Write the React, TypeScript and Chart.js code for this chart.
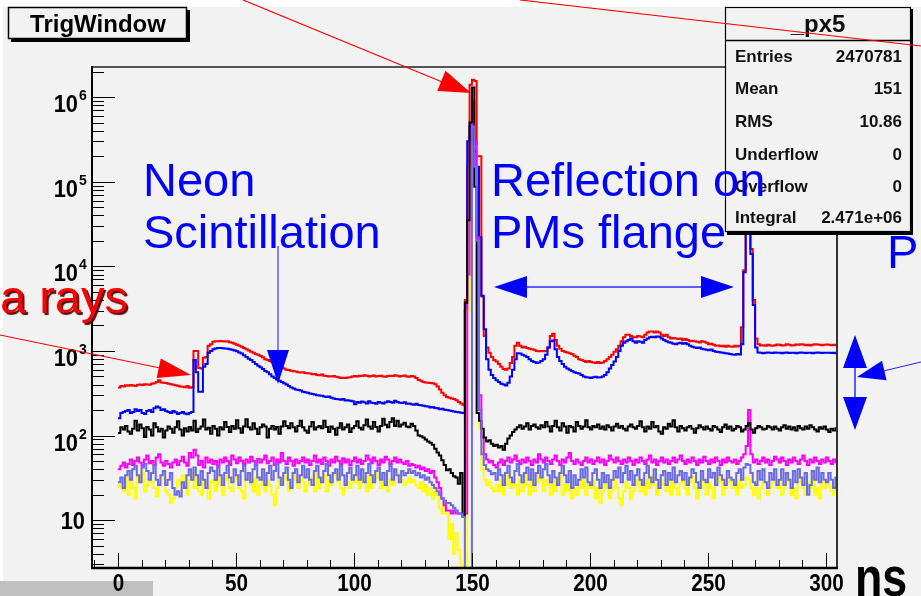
import React, { useEffect, useRef } from "react";
import { Chart, registerables } from "chart.js";

Chart.register(...registerables);

// ---------------- data (1 ns bins starting at 0 ns) ----------------
const firstBinNs = 0;
const binWidthNs = 1;

const redCounts = [
  370,385,380,392,388,396,390,385,398,402,395,405,400,398,410,415,430,450,425,420,
  418,410,405,398,392,388,380,378,372,385,368,372,1000,1000,630,620,830,850,1150,1200,
  1280,1300,1300,1310,1300,1290,1300,1270,1250,1220,1180,1150,1120,1080,1050,1010,980,950,920,900,
  870,840,800,780,760,740,710,690,660,640,620,600,595,585,575,570,560,555,560,550,
  545,540,530,535,520,515,525,510,505,500,498,505,495,488,480,482,478,485,490,500,
  505,500,510,505,515,508,500,505,512,498,505,510,500,495,505,510,505,515,508,500,
  505,512,500,495,505,500,480,455,445,430,425,420,418,415,405,380,350,320,300,285,
  280,275,270,262,250,240,232,4000,150000,1400000,1600000,1550000,200000,200000,4400,1500,1100,950,850,780,
  750,700,650,610,600,620,720,850,1150,1250,1150,1100,1120,1080,1060,1050,1030,1000,990,1000,
  990,1000,1100,1500,1600,1350,1150,1060,1000,980,960,940,920,880,850,800,780,760,740,760,
  740,730,720,740,720,730,760,800,850,900,980,1050,1150,1300,1450,1550,1550,1500,1450,1450,
  1500,1480,1450,1550,1650,1700,1700,1650,1700,1650,1550,1500,1550,1450,1400,1420,1400,1380,1400,1350,
  1380,1350,1300,1320,1300,1280,1260,1300,1280,1250,1200,1220,1180,1150,1160,1140,1150,1120,1150,1130,
  1120,1150,1130,1150,1900,9000,26000,26000,16000,4000,1400,1200,1160,1170,1150,1180,1160,1150,1170,1190,
  1180,1160,1170,1200,1180,1160,1170,1190,1180,1200,1190,1170,1180,1160,1180,1200,1190,1180,1170,1180,
  1190,1180,1170,1180,1170,
];

const blueCounts = [
  160,185,190,195,200,185,190,205,195,200,185,180,195,200,190,210,220,215,200,205,
  195,190,185,195,188,180,185,190,182,178,185,190,780,560,330,330,650,700,950,1000,
  1050,1070,1080,1080,1075,1070,1060,1050,1030,1010,990,960,930,890,850,810,780,740,700,670,
  640,610,580,560,530,500,480,460,445,430,415,400,385,370,360,350,345,340,330,325,
  320,315,310,305,300,298,295,290,285,290,280,275,270,268,265,270,260,262,258,255,
  235,250,245,252,248,240,255,245,242,238,250,245,240,248,255,250,245,258,250,245,
  242,248,238,240,235,232,238,230,228,225,222,220,215,218,212,210,205,208,202,200,
  198,195,192,190,188,186,185,3000,300000,450000,450000,230000,150000,22000,4500,1800,800,600,520,480,
  450,430,410,400,390,420,500,600,800,940,930,900,880,850,800,760,740,720,730,760,
  800,900,1100,1300,1330,1050,850,760,700,650,620,600,580,560,550,540,520,500,490,485,
  480,490,495,485,490,500,520,560,620,680,750,850,1000,1150,1250,1300,1350,1400,1300,1250,
  1300,1280,1250,1350,1400,1450,1470,1450,1480,1470,1400,1350,1300,1270,1250,1220,1200,1230,1250,1220,
  1240,1200,1150,1120,1100,1080,1100,1060,1050,1030,1020,1040,1000,980,970,960,950,940,930,920,
  910,900,920,905,1200,8500,30000,30000,14000,3500,1100,960,950,940,955,960,950,945,960,950,
  955,940,950,960,945,950,955,940,950,960,950,945,955,950,940,950,960,955,945,950,
  955,950,945,950,940,
];

const blackCounts = [
  107,125,118,130,112,105,120,150,115,135,122,96,126,118,100,140,125,112,120,95,
  115,128,120,108,125,148,118,100,122,112,126,115,150,110,120,128,155,118,124,105,
  130,120,100,125,118,145,126,110,130,120,152,122,108,128,156,125,118,140,120,104,
  125,135,128,95,120,130,118,126,105,128,148,130,122,140,125,112,130,150,125,115,
  108,128,145,118,125,130,122,150,126,110,128,120,102,124,140,118,125,135,110,122,
  130,148,124,118,132,155,128,120,145,126,112,130,158,134,125,145,160,130,150,128,
  135,142,128,125,138,130,115,100,98,95,90,85,82,78,70,63,58,51,45,39,
  40,36,33,32,27,36,11,3700,35000,500000,1300000,87000,185,150,120,95,85,88,80,75,
  78,72,75,68,80,92,100,110,118,125,132,120,128,140,118,130,135,125,120,132,
  125,145,128,112,130,150,125,115,140,128,108,130,125,112,145,130,120,128,152,125,
  118,130,125,135,120,128,118,132,125,115,128,138,124,130,120,115,128,135,125,120,
  130,148,125,112,128,120,145,125,130,112,105,125,120,138,128,152,125,112,130,122,
  115,125,130,120,108,122,132,125,118,128,120,115,130,125,118,110,125,135,120,128,
  115,120,130,125,112,118,130,140,118,108,122,130,125,118,120,130,125,118,128,120,
  115,125,132,120,128,118,125,115,130,122,118,128,120,132,125,118,112,125,120,128,
  118,110,120,115,122,
];

const magentaCounts = [
  40,44,48,42,46,52,45,50,55,48,44,52,58,47,50,45,55,60,48,44,
  50,46,42,48,52,45,50,56,48,44,62,55,68,58,45,50,42,55,48,52,
  46,50,44,52,48,55,50,45,58,52,47,55,50,46,52,48,56,50,45,53,
  48,52,58,47,50,55,45,52,48,62,50,46,55,50,44,52,47,50,55,48,
  52,45,50,58,48,52,46,55,50,44,52,48,56,50,46,54,48,52,45,50,
  55,48,52,46,50,58,52,47,55,50,45,52,48,56,52,46,50,55,48,52,
  48,46,50,44,46,45,42,44,40,42,38,40,36,38,32,28,24,18,15,13,
  13,12,13,12,12,12,12,12,8000,300000,900000,300000,22000,300,95,60,52,48,50,45,
  42,48,52,45,50,55,48,52,58,50,46,52,48,55,50,45,52,48,60,52,
  48,55,50,46,52,58,50,45,52,48,55,62,50,46,52,48,45,50,55,48,
  52,46,50,55,48,52,45,50,58,52,48,55,50,46,52,48,55,50,45,52,
  48,55,50,46,52,58,48,52,45,50,55,48,52,46,50,55,48,52,58,50,
  46,52,48,55,50,45,52,48,56,50,46,52,48,55,50,45,52,48,55,50,
  48,52,46,50,55,60,75,200,60,48,52,46,50,55,48,52,45,50,56,52,
  48,55,50,45,52,48,55,50,46,52,58,50,45,52,48,55,50,46,52,48,
  55,50,46,52,48,
];

const slateCounts = [
  28,32,24,34,38,30,40,44,34,28,42,46,38,30,36,44,30,26,34,38,
  26,30,36,24,20,22,19,28,24,34,40,30,42,34,26,38,30,24,36,42,
  38,30,42,34,26,36,44,32,28,40,34,26,38,44,30,36,28,40,46,32,
  30,40,26,36,44,30,38,46,32,26,36,42,30,24,36,40,28,34,44,32,
  40,30,26,38,44,32,28,38,46,34,28,36,40,30,44,34,26,36,42,30,
  34,44,30,40,28,36,46,34,28,38,42,30,36,26,38,44,30,40,34,28,
  38,34,36,40,36,38,34,36,32,34,30,32,28,26,24,22,20,18,17,16,
  16,15,14,13,12,12,11,0,0,0,450000,150000,20000,200,60,45,40,38,35,36,
  30,40,34,26,36,44,32,28,38,46,34,28,36,42,30,40,26,36,44,32,
  40,46,34,28,38,32,26,36,44,34,28,38,24,34,26,30,40,32,42,28,
  26,36,40,30,24,36,28,34,24,30,38,32,42,28,36,44,30,38,26,34,
  40,30,26,36,44,32,28,40,30,24,34,38,26,36,30,42,28,34,38,30,
  36,26,32,40,36,28,24,38,30,28,40,32,36,26,42,34,30,26,38,32,
  30,26,36,40,30,42,46,45,36,28,26,38,30,40,28,24,36,30,40,26,
  30,40,26,36,30,24,38,28,40,32,26,36,20,26,38,30,42,28,36,30,
  28,36,30,24,32,
];

const yellowCounts = [
  25,30,22,32,20,28,24,18,34,28,36,22,26,32,28,24,19,28,32,30,
  22,20,16,18,24,30,26,34,24,20,30,36,24,32,22,20,30,26,18,28,
  30,22,34,26,20,30,36,24,22,30,34,24,22,18,30,34,26,22,32,20,
  26,34,22,30,26,20,15,24,30,26,34,30,22,26,36,30,24,32,28,22,
  26,32,30,22,36,24,30,34,22,30,26,34,36,28,24,20,34,28,24,32,
  28,36,24,32,30,22,34,24,30,36,32,24,28,34,22,30,26,34,36,28,
  30,26,28,32,28,30,26,24,28,22,26,20,24,18,22,20,14,12,16,12,
  6,9,4,7,4.5,3,0,0,3000,150000,260000,260000,400,120,40,30,26,28,24,22,
  26,22,30,20,26,34,24,30,26,20,30,22,34,26,20,30,22,28,34,30,
  22,30,26,20,30,22,28,34,20,26,22,30,18,24,20,28,24,30,20,26,
  24,30,18,24,16,22,28,24,18,22,30,24,18,15,22,28,24,18,22,26,
  30,22,28,20,30,24,34,26,20,24,30,26,22,30,20,28,24,20,28,32,
  24,20,28,32,24,18,28,24,30,20,28,24,18,26,32,28,20,24,28,32,
  24,28,20,30,24,26,32,30,24,20,28,18,24,30,28,20,24,28,32,24,
  28,20,24,30,28,20,24,18,28,32,24,20,28,24,32,20,24,18,28,24,
  30,26,22,20,26,
];

// axis ranges and ticks
const xAxisMin = -11;
const xAxisMax = 304.7;
const yAxisMin = 2.72;
const yAxisMax = 2.27e6;
const xMajorTicks = [0, 50, 100, 150, 200, 250, 300];
const xMinorTicks = [-10, 10, 20, 30, 40, 60, 70, 80, 90, 110, 120, 130, 140, 160, 170, 180, 190, 210, 220, 230, 240, 260, 270, 280, 290];
const yDecadeExponents = [1, 2, 3, 4, 5, 6];
const yMinorMultipliers = [2, 3, 4, 5, 6, 7, 8, 9];

const titleText = "TrigWindow";
const statsTitle = "_px5";
const statsLabels = ["Entries", "Mean", "RMS", "Underflow", "Overflow", "Integral"];
const statsValues = ["2470781", "151", "10.86", "0", "0", "2.471e+06"];
const xUnitLabel = "ns";

const SANS = '"Liberation Sans", Arial, Helvetica, sans-serif';

function toHistPoints(values: number[]) {
  const pts = values.map((v, i) => ({ x: firstBinNs + i * binWidthNs, y: v > 0 ? v : yAxisMin / 10 }));
  const last = values[values.length - 1];
  pts.push({ x: firstBinNs + values.length * binWidthNs, y: last > 0 ? last : yAxisMin / 10 });
  return pts;
}

function drawText(ctx: CanvasRenderingContext2D, s: string, x: number, y: number, font: string, color: string, align: CanvasTextAlign = "left", sx = 1) {
  ctx.save();
  ctx.font = font;
  ctx.fillStyle = color;
  ctx.textAlign = align;
  ctx.textBaseline = "alphabetic";
  ctx.translate(x, y);
  ctx.scale(sx, 1);
  ctx.fillText(s, 0, 0);
  ctx.restore();
}

function seg(ctx: CanvasRenderingContext2D, x1: number, y1: number, x2: number, y2: number, color: string, w: number) {
  ctx.save();
  ctx.strokeStyle = color;
  ctx.lineWidth = w;
  ctx.beginPath();
  ctx.moveTo(x1, y1);
  ctx.lineTo(x2, y2);
  ctx.stroke();
  ctx.restore();
}

function head(ctx: CanvasRenderingContext2D, tipX: number, tipY: number, fromX: number, fromY: number, len: number, half: number, color: string) {
  const dx = tipX - fromX;
  const dy = tipY - fromY;
  const d = Math.hypot(dx, dy);
  const ux = dx / d;
  const uy = dy / d;
  const bx = tipX - ux * len;
  const by = tipY - uy * len;
  ctx.save();
  ctx.fillStyle = color;
  ctx.beginPath();
  ctx.moveTo(tipX, tipY);
  ctx.lineTo(bx - uy * half, by + ux * half);
  ctx.lineTo(bx + uy * half, by - ux * half);
  ctx.closePath();
  ctx.fill();
  ctx.restore();
}

const backgroundPlugin = {
  id: "rootBackground",
  beforeDraw(chart: any) {
    const ctx = chart.ctx as CanvasRenderingContext2D;
    ctx.save();
    ctx.fillStyle = "#ffffff";
    ctx.fillRect(0, 0, chart.width, chart.height);
    ctx.fillStyle = "#f2f2f2";
    ctx.fillRect(3, 7, chart.width - 3, chart.height - 7);
    ctx.fillStyle = "#c0c0c0";
    ctx.fillRect(0, 581, 153, 15);
    ctx.restore();
  },
};

const overlayPlugin = {
  id: "rootOverlay",
  afterDatasetsDraw(chart: any) {
    const ctx = chart.ctx as CanvasRenderingContext2D;
    const xs = chart.scales.x;
    const ys = chart.scales.y;
    const { left, right, top, bottom } = chart.chartArea;
    ctx.save();

    // frame
    seg(ctx, left, top, right, top, "#222", 1.5);
    seg(ctx, right, top, right, bottom, "#333", 2);
    seg(ctx, left, top - 1, left, bottom + 1, "#000", 2);
    seg(ctx, left - 1, bottom, right + 1, bottom, "#000", 2.5);

    // x ticks
    for (const v of xMajorTicks) {
      const px = Math.round(xs.getPixelForValue(v)) + 0.5;
      seg(ctx, px, bottom, px, bottom - 15, "#000", 1);
      drawText(ctx, String(v), px, bottom + 23, `bold 23px ${SANS}`, "#000", "center", 0.9);
    }
    for (const v of xMinorTicks) {
      const px = Math.round(xs.getPixelForValue(v)) + 0.5;
      seg(ctx, px, bottom, px, bottom - 8, "#000", 1);
    }
    // y ticks
    for (const e of yDecadeExponents) {
      const py = Math.round(ys.getPixelForValue(Math.pow(10, e))) + 0.5;
      seg(ctx, left, py, left + 23, py, "#000", 1);
      if (e === 1) {
        drawText(ctx, "10", 85, py + 8, `bold 23px ${SANS}`, "#000", "right", 0.95);
      } else {
        drawText(ctx, "10", 78, py + 14, `bold 23px ${SANS}`, "#000", "right", 0.95);
        drawText(ctx, String(e), 79, py + 2, `bold 14px ${SANS}`, "#000", "left");
      }
    }
    for (let e = 0; e <= 6; e++) {
      for (const m of yMinorMultipliers) {
        const v = m * Math.pow(10, e);
        if (v < yAxisMin || v > yAxisMax) continue;
        const py = Math.round(ys.getPixelForValue(v)) + 0.5;
        seg(ctx, left, py, left + 12, py, "#000", 1);
      }
    }

    // title box
    ctx.fillStyle = "#000";
    ctx.fillRect(11, 10, 179, 32);
    ctx.fillStyle = "#f2f2f2";
    ctx.fillRect(8, 7, 179, 32);
    ctx.strokeStyle = "#000";
    ctx.lineWidth = 1.5;
    ctx.strokeRect(8.5, 7.5, 178, 31);
    drawText(ctx, titleText, 98, 32, `bold 24px ${SANS}`, "#000", "center");

    // stats box
    ctx.fillStyle = "#000";
    ctx.fillRect(727, 9, 186, 226);
    ctx.fillStyle = "#f2f2f2";
    ctx.fillRect(725, 7, 186, 225);
    ctx.strokeStyle = "#000";
    ctx.lineWidth = 1.2;
    ctx.strokeRect(725.5, 7.5, 185, 224);
    seg(ctx, 725, 40.5, 911, 40.5, "#000", 1.5);
    drawText(ctx, statsTitle, 818, 32, `bold 24px ${SANS}`, "#111", "center");
    const rowBase = [62, 94, 127, 160, 192, 223];
    statsLabels.forEach((lab, i) => {
      drawText(ctx, lab, 735, rowBase[i], `bold 17px ${SANS}`, "#111", "left");
      drawText(ctx, statsValues[i], 902, rowBase[i], `bold 17px ${SANS}`, "#111", "right");
    });

    // red annotation lines
    seg(ctx, 243, 0, 452, 86, "#ff0000", 1.2);
    head(ctx, 471, 93, 243, 0, 32, 11, "#ff0000");
    seg(ctx, 520, 0, 921, 46, "#ff0000", 1.2);
    seg(ctx, 0, 335, 160, 368, "#ff0000", 1.2);
    head(ctx, 191, 375, 0, 335, 33, 10, "#ff0000");

    // texts
    const big = `47px ${SANS}`;
    drawText(ctx, "Neon", 143, 196, big, "#0000ff");
    drawText(ctx, "Scintillation", 143, 248, big, "#0000ff");
    drawText(ctx, "Reflection on", 491, 196, big, "#0000ff");
    drawText(ctx, "PMs flange", 491, 248, big, "#0000ff");
    drawText(ctx, "P", 887, 268, big, "#0000ff");
    ctx.save();
    ctx.shadowColor = "rgba(70,0,0,0.95)";
    ctx.shadowOffsetX = 2;
    ctx.shadowOffsetY = 2;
    ctx.shadowBlur = 1;
    drawText(ctx, "a rays", 128, 313, big, "#ff0000", "right");
    ctx.restore();

    // blue arrows
    seg(ctx, 278, 246, 278, 355, "#5a5aff", 1.5);
    head(ctx, 278, 384, 278, 246, 34, 11, "#0000ff");
    seg(ctx, 510, 287, 720, 287, "#2a2aff", 1.5);
    head(ctx, 494, 287, 734, 287, 33, 11, "#0000ff");
    head(ctx, 734, 287, 494, 287, 33, 11, "#0000ff");
    seg(ctx, 855, 360, 855, 405, "#2a2aff", 1.5);
    head(ctx, 855, 335, 855, 430, 33, 12, "#0000ff");
    head(ctx, 855, 430, 855, 335, 33, 12, "#0000ff");
    seg(ctx, 921, 362, 875, 373, "#2a2aff", 1.2);
    head(ctx, 857, 377, 921, 362, 28, 10, "#0000ff");

    // unit label
    drawText(ctx, xUnitLabel, 855, 596, `bold 56px ${SANS}`, "#000", "left", 0.8);

    ctx.restore();
  },
};

export default function App() {
  const ref = useRef<HTMLCanvasElement | null>(null);
  useEffect(() => {
    document.body.style.margin = "0";
    const canvas = ref.current;
    if (!canvas) return;
    const mk = (label: string, values: number[], color: string) => ({
      label,
      data: toHistPoints(values),
      borderColor: color,
      backgroundColor: color,
      borderWidth: 2,
      pointRadius: 0,
      stepped: "before" as const,
      fill: false,
      tension: 0,
    });
    const chart = new Chart(canvas, {
      type: "line",
      data: {
        datasets: [
          mk("slate", slateCounts, "#6b6be6"),
          mk("black", blackCounts, "#000000"),
          mk("magenta", magentaCounts, "#ff00ff"),
          mk("yellow", yellowCounts, "#ffff00"),
          mk("blue", blueCounts, "#0000ff"),
          mk("red", redCounts, "#ff0000"),
        ],
      },
      options: {
        animation: false,
        responsive: false,
        devicePixelRatio: 1,
        layout: { padding: { left: 92, top: 67, right: 84, bottom: 28 } },
        scales: {
          x: { type: "linear", min: xAxisMin, max: xAxisMax, display: false },
          y: { type: "logarithmic", min: yAxisMin, max: yAxisMax, display: false },
        },
        plugins: { legend: { display: false }, tooltip: { enabled: false } },
        elements: { point: { radius: 0 } },
      },
      plugins: [backgroundPlugin, overlayPlugin],
    } as any);
    return () => chart.destroy();
  }, []);
  return (
    <div style={{ position: "absolute", left: 0, top: 0, width: 921, height: 596 }}>
      <canvas ref={ref} width={921} height={596} style={{ display: "block" }} />
    </div>
  );
}
